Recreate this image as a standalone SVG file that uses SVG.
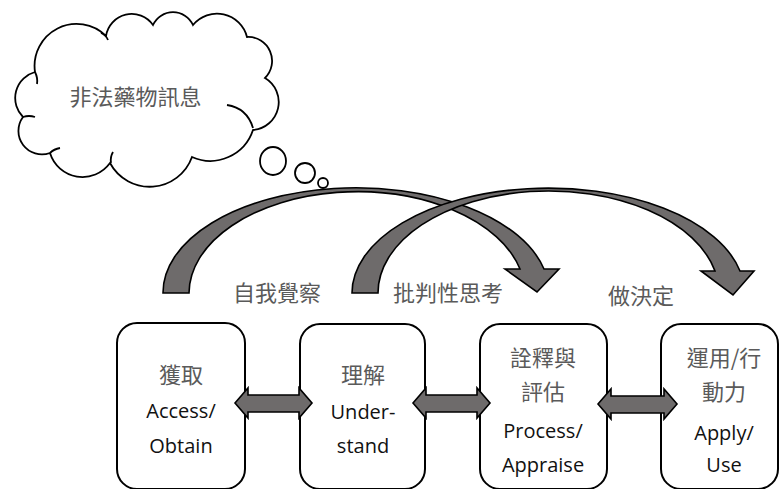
<svg xmlns="http://www.w3.org/2000/svg" width="779" height="489" viewBox="0 0 779 489">
<style>
.cj{font-family:"Noto Sans CJK TC","Noto Sans CJK SC",sans-serif;font-size:22px;fill:#5a5a5a;text-anchor:middle}
.lt{font-family:"Open Sans","Noto Sans",sans-serif;font-size:20px;fill:#111;text-anchor:middle}
.box{fill:#fff;stroke:#000;stroke-width:2}
.arr{fill:#6e6b6b;stroke:#000;stroke-width:1.6;stroke-linejoin:miter}
.cl{fill:#fff;stroke:#000;stroke-width:1.8}
.ln{fill:none;stroke:#000;stroke-width:1.8}
</style>
<rect width="779" height="489" fill="#fff"/>
<g id="cloud">
<path class="cl" d="M35,72 A42,42 0 0 1 106,36 A26,26 0 0 1 153,25 A22,22 0 0 1 193,25 A31,31 0 0 1 247,37 A24,24 0 0 1 265,78 A28,28 0 0 1 253,130 A45,45 0 0 1 192,157 A45,45 0 0 1 110,163 A34,34 0 0 1 50,153 A23.5,23.5 0 0 1 23,117 A27,27 0 0 1 35,72 Z"/>
<path class="ln" d="M101,33 Q106,35 108,40 M227,105 Q247,108 253,128 M111,163 Q110,157 113,152 M50,153 Q54,149 60,148 M23,117 Q29,115 35,117 M35,72 Q38,78 37,84"/>
<text class="cj" x="135.5" y="105">非法藥物訊息</text>
<ellipse class="cl" cx="273" cy="161" rx="13" ry="14"/>
<circle class="cl" cx="305" cy="173" r="10"/>
<circle class="cl" cx="323" cy="183" r="5"/>
</g>
<g id="labels">
<text class="cj" x="277" y="301">自我覺察</text>
<text class="cj" x="448" y="301">批判性思考</text>
<text class="cj" x="641" y="304">做決定</text>
</g>
<g id="node-access">
<rect class="box" x="117" y="323" width="128" height="166" rx="20"/>
<text class="cj" x="181" y="383">獲取</text>
<text class="lt" x="181" y="418">Access/</text>
<text class="lt" x="181" y="453">Obtain</text>
</g>
<g id="node-understand">
<rect class="box" x="300" y="324" width="125" height="165" rx="20"/>
<text class="cj" x="363" y="383">理解</text>
<text class="lt" x="363" y="419">Under-</text>
<text class="lt" x="363" y="453">stand</text>
</g>
<g id="node-process">
<rect class="box" x="480" y="324" width="127" height="165" rx="20"/>
<text class="cj" x="543" y="366">詮釋與</text>
<text class="cj" x="543" y="400">評估</text>
<text class="lt" x="543" y="438">Process/</text>
<text class="lt" x="543" y="472">Appraise</text>
</g>
<g id="node-apply">
<rect class="box" x="661" y="324" width="117" height="165" rx="20"/>
<text class="cj" x="724" y="366">運用/行</text>
<text class="cj" x="724" y="400">動力</text>
<text class="lt" x="724" y="440">Apply/</text>
<text class="lt" x="724" y="472">Use</text>
</g>
<g id="connectors">
<path class="arr" d="M163,293 A193,105 0 0 1 544,269 L559,269 L537,292 L505,269 L520,269 A168,102 0 0 0 189,293 Z"/>
<path class="arr" d="M352,293 A196.2,105 0 0 1 740,271 L754,271 L733,295 L701,271 L715,271 A170.5,102 0 0 0 378,293 Z"/>
<path class="arr" d="M235,403 L248,388 L248,395 L299,395 L299,388 L312,403 L299,418 L299,412 L248,412 L248,418 Z"/>
<path class="arr" d="M413,403 L426,388 L426,395 L477,395 L477,388 L490,403 L477,418 L477,412 L426,412 L426,418 Z"/>
<path class="arr" d="M598,404 L611,389 L611,396 L664,396 L664,389 L677,404 L664,419 L664,413 L611,413 L611,419 Z"/>
</g>
</svg>
